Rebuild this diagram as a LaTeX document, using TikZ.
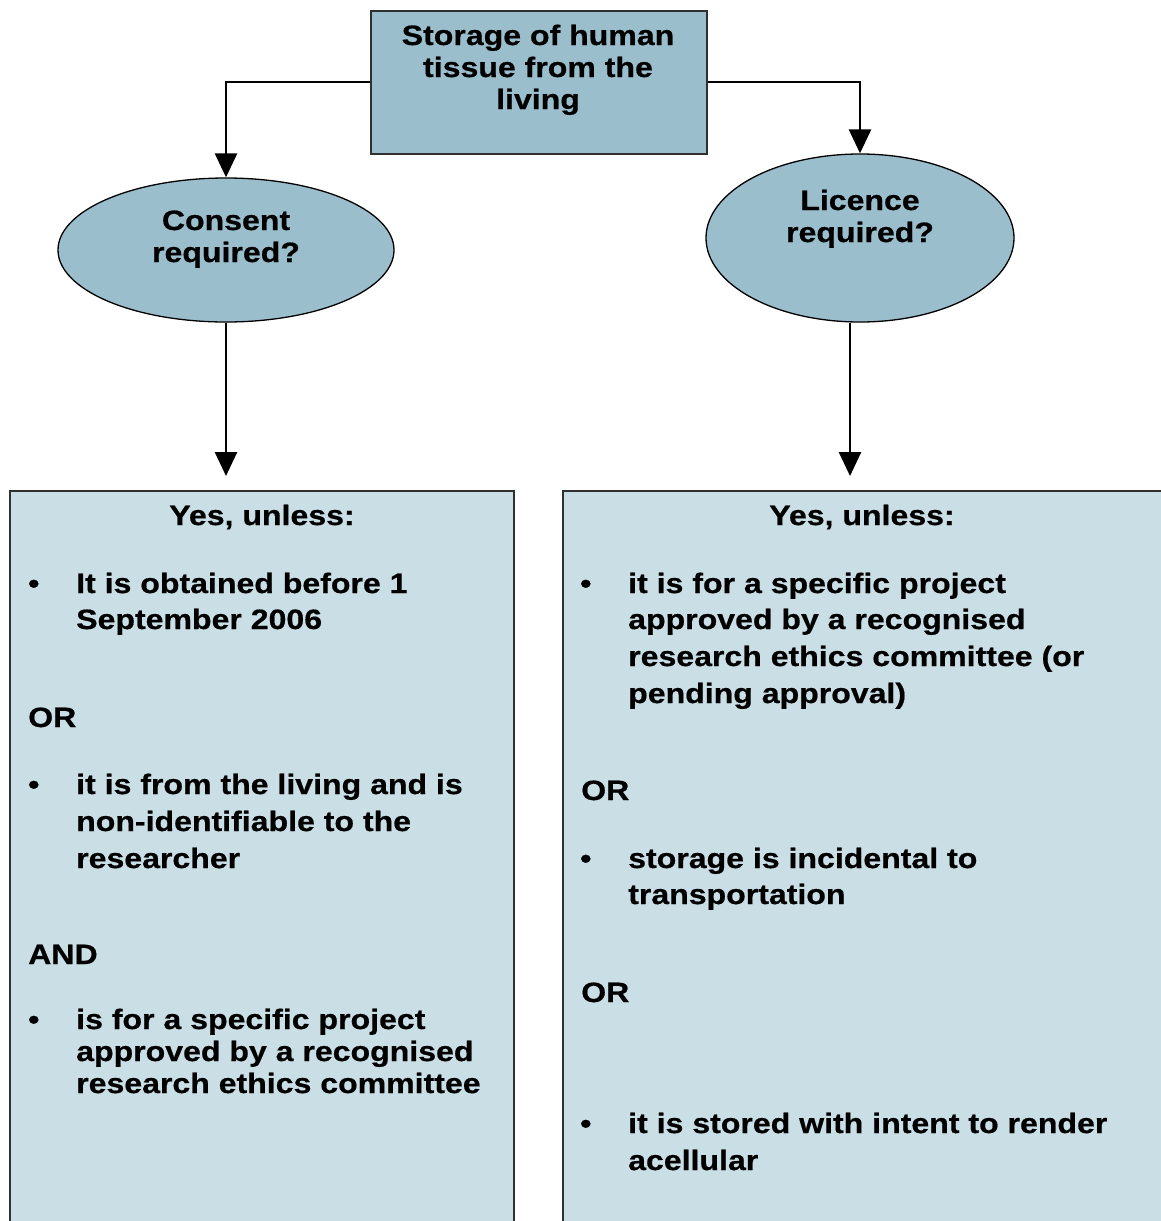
\documentclass[tikz,border=0pt]{standalone}
\usepackage{fontspec}
\setmainfont[FakeStretch=1.145, BoldFeatures={FakeBold=0.6}]{Liberation Sans}
\usetikzlibrary{arrows.meta,shapes.geometric}
\definecolor{darkfill}{HTML}{9BBECD}
\definecolor{lightfill}{HTML}{CADEE5}
\definecolor{edgegray}{HTML}{303030}
\tikzset{
  txt/.style={inner sep=0pt, anchor=base west, font=\fontsize{28}{32}\selectfont\bfseries},
  ctxt/.style={inner sep=0pt, anchor=base, font=\fontsize{28}{32}\selectfont\bfseries},
  conn/.style={line width=2.7pt, -{Triangle[length=24pt,width=22pt]}},
}
\begin{document}
\begin{tikzpicture}[x=1pt,y=-1pt]
\useasboundingbox (0,0) rectangle (1160,1221);
% shapes
\node[draw=edgegray, line width=1.4pt, fill=darkfill, minimum width=336pt, minimum height=143pt, inner sep=0pt] (top) at (539,82.5) {};
\node[draw=black, line width=1.3pt, fill=darkfill, ellipse, minimum width=336pt, minimum height=144pt, inner sep=0pt] (cons) at (226,250) {};
\node[draw=black, line width=1.3pt, fill=darkfill, ellipse, minimum width=308pt, minimum height=168pt, inner sep=0pt] (lic) at (860,238) {};
\draw[draw=edgegray, line width=1.4pt, fill=lightfill] (10,1240) -- (10,491) -- (514,491) -- (514,1240);
\draw[draw=edgegray, line width=1.4pt, fill=lightfill] (563,1240) -- (563,491) -- (1180,491) -- (1180,1240);
\coordinate (lbox) at (226,476);
\coordinate (rbox) at (850,476);
% connectors
\draw[conn] (top.west |- 0,82) -| (cons.north);
\draw[conn] (top.east |- 0,82) -| (lic.north);
\draw[conn] (cons.south) -- (lbox);
\draw[conn] (lic.south -| rbox) -- (rbox);
% top texts
\node[ctxt] (t1) at (538,45) {Storage of human};
\node[ctxt] (t2) at (538,77) {tissue from the};
\node[ctxt] (t3) at (538,109) {living};
\node[ctxt] (c1) at (226,230) {Consent};
\node[ctxt] (c2) at (226,262) {required?};
\node[ctxt] (l1) at (860,210) {Licence};
\node[ctxt] (l2) at (860,242) {required?};
% left box
\node[ctxt] (ly) at (262,525) {Yes, unless:};
\node[txt] (lb1) at (28,593) {•};
\node[txt] (la1) at (76,593) {It is obtained before 1};
\node[txt] (la2) at (76,629) {September 2006};
\node[txt] (lor) at (28,727) {OR};
\node[txt] (lb2) at (28,794) {•};
\node[txt] (lc1) at (76,794) {it is from the living and is};
\node[txt] (lc2) at (76,831) {non-identifiable to the};
\node[txt] (lc3) at (76,868) {researcher};
\node[txt] (land) at (28,964) {AND};
\node[txt] (lb3) at (28,1029) {•};
\node[txt] (ld1) at (76,1029) {is for a specific project};
\node[txt] (ld2) at (76,1061) {approved by a recognised};
\node[txt] (ld3) at (76,1093) {research ethics committee};
% right box
\node[ctxt] (ry) at (862,525) {Yes, unless:};
\node[txt] (rb1) at (580,593) {•};
\node[txt] (ra1) at (628,593) {it is for a specific project};
\node[txt] (ra2) at (628,629) {approved by a recognised};
\node[txt] (ra3) at (628,666) {research ethics committee (or};
\node[txt] (ra4) at (628,703) {pending approval)};
\node[txt] (ror1) at (581,800) {OR};
\node[txt] (rb2) at (580,868) {•};
\node[txt] (rc1) at (628,868) {storage is incidental to};
\node[txt] (rc2) at (628,904) {transportation};
\node[txt] (ror2) at (581,1002) {OR};
\node[txt] (rb3) at (580,1133) {•};
\node[txt] (rd1) at (628,1133) {it is stored with intent to render};
\node[txt] (rd2) at (628,1170) {acellular};
\end{tikzpicture}
\end{document}
